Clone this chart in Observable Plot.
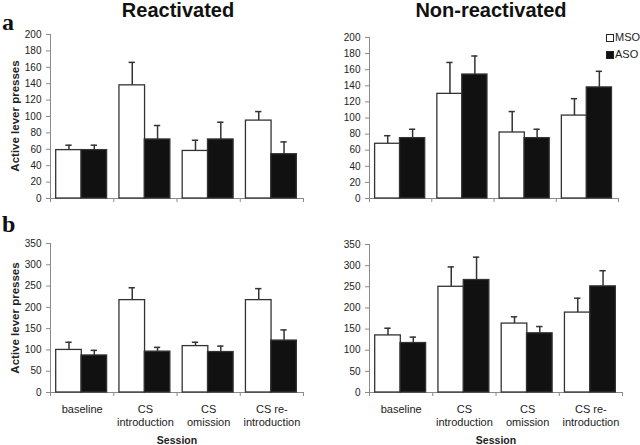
<!DOCTYPE html>
<html>
<head>
<meta charset="utf-8">
<script src="https://cdn.jsdelivr.net/npm/d3@7"></script>
<script src="https://cdn.jsdelivr.net/npm/@observablehq/plot@0.6"></script>
<style>
  html, body { margin: 0; padding: 0; background: #fff; }
  #chart { position: relative; width: 640px; height: 445px; overflow: hidden; font-family: "Liberation Sans", Arial, sans-serif; color: #111; }
  .panel { position: absolute; }
  .title { position: absolute; font-size: 20px; font-weight: bold; line-height: 20px; white-space: nowrap; transform: translateX(-50%); }
  .letter { position: absolute; font-family: "Liberation Serif", "Times New Roman", serif; font-weight: bold; font-size: 24px; line-height: 24px; }
  .ylab { position: absolute; font-size: 11.5px; font-weight: bold; line-height: 13px; white-space: nowrap; color: #222; transform: translate(-50%, -50%) rotate(-90deg); }
  .legend { position: absolute; left: 606px; top: 29px; font-size: 11px; line-height: 17px; color: #222; }
  .legend div { display: flex; align-items: center; white-space: nowrap; }
  .legend span.sw { display: inline-block; width: 6px; height: 6px; border: 1px solid #222; margin-right: 1px; }
</style>
</head>
<body>
<div id="chart">
  <div class="title" style="left:178px; top:0px;">Reactivated</div>
  <div class="title" style="left:491px; top:0px;">Non-reactivated</div>
  <div class="letter" style="left:2px; top:10px;">a</div>
  <div class="letter" style="left:2px; top:212px;">b</div>
  <div class="legend">
    <div><span class="sw" style="background:#fff"></span>MSO</div>
    <div><span class="sw" style="background:#111"></span>ASO</div>
  </div>
</div>
<script>
// ---- data ----
const sessions = ["baseline", "CS\nintroduction", "CS\nomission", "CS re-\nintroduction"];
const seriesNames = ["MSO", "ASO"];

// panel a: Reactivated
const reactA_MSO = [59, 138, 58, 95];
const reactA_MSO_sem = [6, 28, 13, 11];
const reactA_ASO = [59, 72, 72, 54];
const reactA_ASO_sem = [6, 17, 21, 15];
// panel a: Non-reactivated
const nonA_MSO = [68, 130, 82, 103];
const nonA_MSO_sem = [10, 39, 26, 21];
const nonA_ASO = [75, 154, 75, 138];
const nonA_ASO_sem = [11, 23, 11, 20];
// panel b: Reactivated
const reactB_MSO = [100, 217, 109, 217];
const reactB_MSO_sem = [18, 29, 9, 27];
const reactB_ASO = [87, 96, 95, 122];
const reactB_ASO_sem = [12, 10, 14, 25];
// panel b: Non-reactivated
const nonB_MSO = [135, 250, 163, 189];
const nonB_MSO_sem = [17, 47, 16, 34];
const nonB_ASO = [117, 266, 140, 251];
const nonB_ASO_sem = [14, 54, 16, 37];

const yTicksA = [0, 20, 40, 60, 80, 100, 120, 140, 160, 180, 200];
const yTicksB = [0, 50, 100, 150, 200, 250, 300, 350];
const yLabel = "Active lever presses";
const xLabel = "Session";

// ---- helpers ----
function rows(mso, msoSem, aso, asoSem) {
  const out = [];
  sessions.forEach((s, i) => {
    out.push({i, series: "MSO", mean: mso[i], sem: msoSem[i]});
    out.push({i, series: "ASO", mean: aso[i], sem: asoSem[i]});
  });
  return out;
}
const barStart = d => d.i + (d.series === "MSO" ? 0.09 : 0.49);
const barEnd = d => barStart(d) + 0.405;
const barMid = d => barStart(d) + 0.2025;

const axisGray = "#8a8a8a";
const ink = "#222";

function panel(data, opts) {
  const {yMax, yTicks, width, height, ml, mr, mt, mb, showX} = opts;
  const marks = [
    Plot.ruleY([0], {stroke: axisGray, strokeWidth: 1}),
    Plot.ruleX([0], {stroke: axisGray, strokeWidth: 1}),
    Plot.axisY({ticks: yTicks, tickSize: 4, tickPadding: 5, stroke: axisGray, fill: ink, fontSize: 10, label: null}),
    Plot.axisX({ticks: [0, 1, 2, 3, 4], tickFormat: () => "", tickSize: 4, stroke: axisGray, label: null}),
    Plot.rectY(data, {x1: barStart, x2: barEnd, y1: 0, y2: "mean",
      fill: d => d.series === "MSO" ? "#fff" : "#111", stroke: "#333", strokeWidth: 1.3}),
    Plot.ruleX(data, {x: barMid, y1: "mean", y2: d => d.mean + d.sem, stroke: "#333", strokeWidth: 1.5}),
    Plot.ruleY(data, {y: d => d.mean + d.sem, x1: d => barMid(d) - 0.05, x2: d => barMid(d) + 0.05, stroke: "#333", strokeWidth: 1.5})
  ];
  if (showX) {
    marks.push(Plot.text(sessions, {x: (d, i) => i + 0.5, frameAnchor: "bottom", lineAnchor: "top", dy: 11, fontSize: 11, lineHeight: 1.2, fill: ink, text: d => d}));
    marks.push(Plot.text([xLabel], {frameAnchor: "bottom", lineAnchor: "middle", dy: 48, fontSize: 10.5, fontWeight: "bold", fill: ink, text: d => d}));
  }
  return Plot.plot({
    width, height,
    marginLeft: ml, marginRight: mr, marginTop: mt, marginBottom: mb,
    style: {fontFamily: '"Liberation Sans", Arial, sans-serif', background: "transparent", overflow: "visible"},
    x: {type: "linear", domain: [0, 4], axis: null},
    y: {domain: [0, yMax], axis: null},
    marks
  });
}

const chart = document.getElementById("chart");
function place(node, left, top) {
  const wrap = document.createElement("div");
  wrap.className = "panel";
  wrap.style.left = left + "px";
  wrap.style.top = top + "px";
  wrap.appendChild(node);
  chart.appendChild(wrap);
}
function yTitle(cx, cy) {
  const el = document.createElement("div");
  el.className = "ylab";
  el.style.left = cx + "px";
  el.style.top = cy + "px";
  el.textContent = yLabel;
  chart.appendChild(el);
}

place(panel(rows(reactA_MSO, reactA_MSO_sem, reactA_ASO, reactA_ASO_sem),
  {yMax: 200, yTicks: yTicksA, width: 320, height: 210, ml: 50, mr: 17, mt: 34, mb: 12, showX: false}), 0, 0);
place(panel(rows(nonA_MSO, nonA_MSO_sem, nonA_ASO, nonA_ASO_sem),
  {yMax: 200, yTicks: yTicksA, width: 320, height: 210, ml: 49, mr: 22, mt: 37, mb: 12, showX: false}), 320, 0);
place(panel(rows(reactB_MSO, reactB_MSO_sem, reactB_ASO, reactB_ASO_sem),
  {yMax: 350, yTicks: yTicksB, width: 320, height: 235, ml: 50, mr: 17, mt: 33, mb: 53, showX: true}), 0, 210);
place(panel(rows(nonB_MSO, nonB_MSO_sem, nonB_ASO, nonB_ASO_sem),
  {yMax: 350, yTicks: yTicksB, width: 320, height: 235, ml: 49, mr: 18, mt: 34, mb: 53, showX: true}), 320, 210);
yTitle(15, 116);
yTitle(15, 318);
</script>
</body>
</html>
